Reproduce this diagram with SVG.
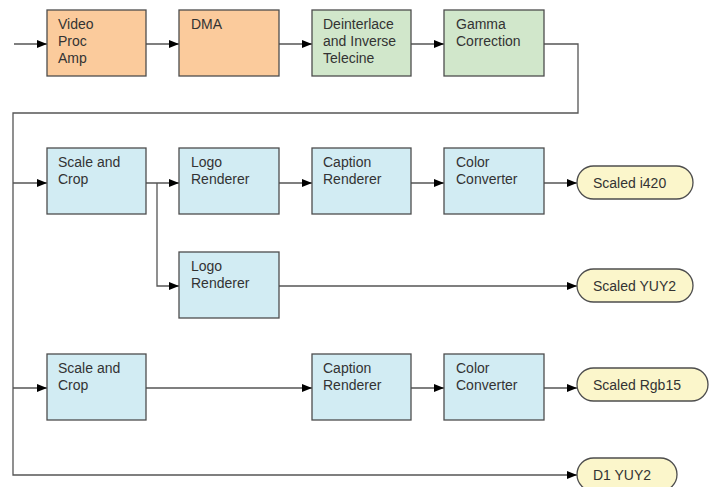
<svg xmlns="http://www.w3.org/2000/svg" width="716" height="487" viewBox="0 0 716 487">
<style>
  .box { stroke: #4d4d4d; stroke-width: 1.3; }
  .orange { fill: #FBCB9C; }
  .green { fill: #D1E7CB; }
  .blue { fill: #D2ECF3; }
  .pill { fill: #FBF6CB; stroke: #4d4d4d; stroke-width: 1.3; }
  text { font-family: "Liberation Sans", Arial, sans-serif; font-size: 14px; fill: #333333; }
  .conn { fill: none; stroke: #555555; stroke-width: 1.3; }
</style>
<defs>
  <marker id="arr" markerWidth="10" markerHeight="8" refX="10" refY="4" orient="auto" markerUnits="userSpaceOnUse">
    <path d="M0,0 L10,4 L0,8 Z" fill="#000000"/>
  </marker>
</defs>
<rect width="716" height="487" fill="#ffffff"/>

<g id="connectors">
  <path class="conn" d="M14,44 H47" marker-end="url(#arr)"/>
  <path class="conn" d="M146,44 H179" marker-end="url(#arr)"/>
  <path class="conn" d="M279,44 H312" marker-end="url(#arr)"/>
  <path class="conn" d="M411,44 H444" marker-end="url(#arr)"/>
  <path class="conn" d="M544,44 H578 V113 H13 V475 H577" marker-end="url(#arr)"/>
  <path class="conn" d="M13,183 H47" marker-end="url(#arr)"/>
  <path class="conn" d="M13,388 H47" marker-end="url(#arr)"/>
  <path class="conn" d="M146,183 H179" marker-end="url(#arr)"/>
  <path class="conn" d="M157,183 V286 H179" marker-end="url(#arr)"/>
  <path class="conn" d="M279,183 H312" marker-end="url(#arr)"/>
  <path class="conn" d="M411,183 H444" marker-end="url(#arr)"/>
  <path class="conn" d="M544,183 H577" marker-end="url(#arr)"/>
  <path class="conn" d="M279,286 H577" marker-end="url(#arr)"/>
  <path class="conn" d="M146,388 H312" marker-end="url(#arr)"/>
  <path class="conn" d="M411,388 H444" marker-end="url(#arr)"/>
  <path class="conn" d="M544,388 H577" marker-end="url(#arr)"/>
</g>

<g id="video-proc-amp">
  <rect class="box orange" x="47" y="10" width="99" height="66"/>
  <text x="58" y="29">Video</text><text x="58" y="46">Proc</text><text x="58" y="63">Amp</text>
</g>
<g id="dma">
  <rect class="box orange" x="179" y="10" width="100" height="66"/>
  <text x="191" y="29">DMA</text>
</g>
<g id="deinterlace">
  <rect class="box green" x="312" y="10" width="99" height="66"/>
  <text x="323" y="29">Deinterlace</text><text x="323" y="46">and Inverse</text><text x="323" y="63">Telecine</text>
</g>
<g id="gamma">
  <rect class="box green" x="444" y="10" width="100" height="66"/>
  <text x="456" y="29">Gamma</text><text x="456" y="46">Correction</text>
</g>

<g id="scale-crop-1">
  <rect class="box blue" x="47" y="148" width="99" height="66"/>
  <text x="58" y="167">Scale and</text><text x="58" y="184">Crop</text>
</g>
<g id="logo-1">
  <rect class="box blue" x="179" y="148" width="100" height="66"/>
  <text x="191" y="167">Logo</text><text x="191" y="184">Renderer</text>
</g>
<g id="caption-1">
  <rect class="box blue" x="312" y="148" width="99" height="66"/>
  <text x="323" y="167">Caption</text><text x="323" y="184">Renderer</text>
</g>
<g id="color-1">
  <rect class="box blue" x="444" y="148" width="100" height="66"/>
  <text x="456" y="167">Color</text><text x="456" y="184">Converter</text>
</g>
<g id="scaled-i420">
  <rect class="pill" x="577" y="166" width="116" height="33" rx="16.5"/>
  <text x="593" y="188">Scaled i420</text>
</g>

<g id="logo-2">
  <rect class="box blue" x="179" y="252" width="100" height="66"/>
  <text x="191" y="271">Logo</text><text x="191" y="288">Renderer</text>
</g>
<g id="scaled-yuy2">
  <rect class="pill" x="577" y="269" width="116" height="33" rx="16.5"/>
  <text x="593" y="291">Scaled YUY2</text>
</g>

<g id="scale-crop-2">
  <rect class="box blue" x="47" y="354" width="99" height="66"/>
  <text x="58" y="373">Scale and</text><text x="58" y="390">Crop</text>
</g>
<g id="caption-2">
  <rect class="box blue" x="312" y="354" width="99" height="66"/>
  <text x="323" y="373">Caption</text><text x="323" y="390">Renderer</text>
</g>
<g id="color-2">
  <rect class="box blue" x="444" y="354" width="100" height="66"/>
  <text x="456" y="373">Color</text><text x="456" y="390">Converter</text>
</g>
<g id="scaled-rgb15">
  <rect class="pill" x="577" y="368" width="131" height="33" rx="16.5"/>
  <text x="593" y="390">Scaled Rgb15</text>
</g>

<g id="d1-yuy2">
  <rect class="pill" x="577" y="458" width="100" height="33" rx="16.5"/>
  <text x="593" y="480">D1 YUY2</text>
</g>
</svg>
